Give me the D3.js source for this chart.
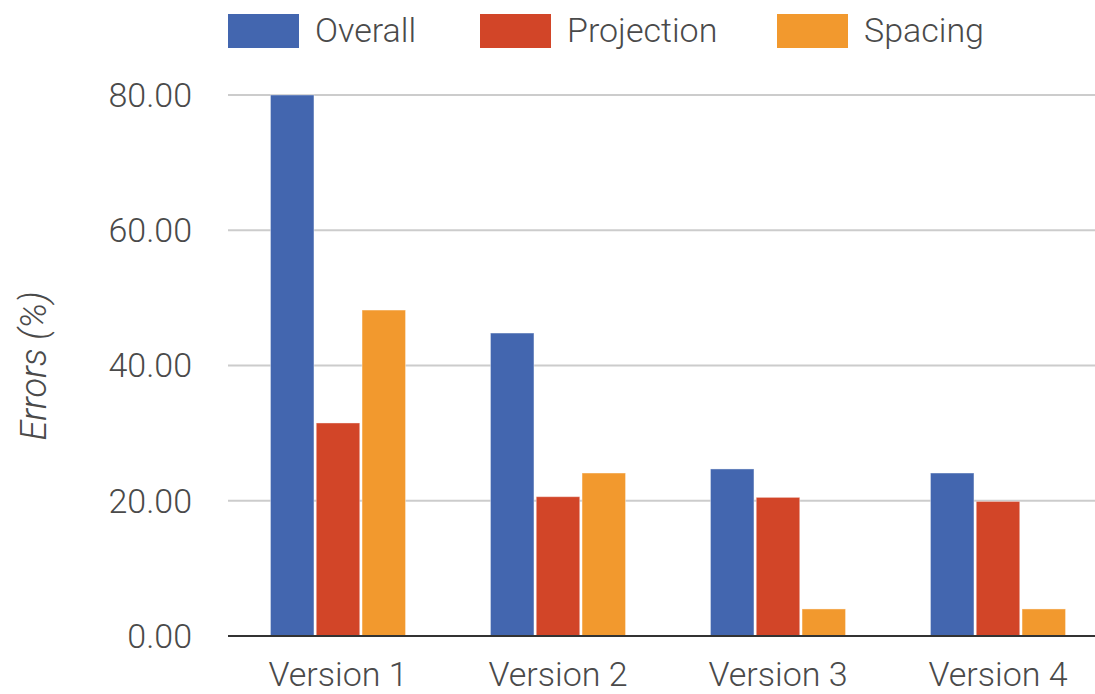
<!DOCTYPE html>
<html>
<head>
<meta charset="utf-8">
<script src="https://cdn.jsdelivr.net/npm/d3@7"></script>
<style>
  body { margin: 0; background: #fff; }
  svg { display: block; font-family: Roboto, "Noto Sans", sans-serif; font-weight: 300; }
</style>
</head>
<body>
<script>
// chart data
var categories = ["Version 1", "Version 2", "Version 3", "Version 4"];
var seriesNames = ["Overall", "Projection", "Spacing"];
var overall = [80.0, 44.8, 24.7, 24.1];
var projection = [31.5, 20.6, 20.5, 19.9];
var spacing = [48.2, 24.1, 4.0, 4.0];
var yTicks = [0, 20, 40, 60, 80];

var colors = ["#4366af", "#d24528", "#f2992e"];
var values = [overall, projection, spacing];

var width = 1095, height = 694;
var textColor = "#4a4a4a";

var svg = d3.select("body").append("svg")
  .attr("width", width)
  .attr("height", height);

// scales
var x = d3.scaleBand()
  .domain(categories)
  .range([228, 1108])
  .paddingInner(0.386)
  .paddingOuter(0.193);

var xSub = d3.scaleBand()
  .domain(seriesNames)
  .range([0, x.bandwidth()])
  .paddingInner(0.05);

var y = d3.scaleLinear()
  .domain([0, 80])
  .range([636, 95]);

// gridlines
svg.append("g")
  .selectAll("line")
  .data(yTicks.slice(1))
  .enter().append("line")
  .attr("x1", 228)
  .attr("x2", width)
  .attr("y1", function(d) { return y(d); })
  .attr("y2", function(d) { return y(d); })
  .attr("stroke", "#cccccc")
  .attr("stroke-width", 2);

// y tick labels
svg.append("g")
  .selectAll("text")
  .data(yTicks)
  .enter().append("text")
  .attr("x", 192)
  .attr("y", function(d) { return y(d); })
  .attr("dy", "0.35em")
  .attr("text-anchor", "end")
  .attr("fill", textColor)
  .attr("font-size", 34)
  .text(function(d) { return d3.format(".2f")(d); });

// y axis title
svg.append("text")
  .attr("transform", "translate(46,366) rotate(-90)")
  .attr("text-anchor", "middle")
  .attr("fill", textColor)
  .attr("font-size", 36)
  .attr("font-style", "italic")
  .text("Errors (%)");

// bars
var groups = svg.append("g")
  .selectAll("g")
  .data(categories)
  .enter().append("g")
  .attr("transform", function(d) { return "translate(" + x(d) + ",0)"; });

groups.selectAll("rect")
  .data(function(d, i) {
    return seriesNames.map(function(s, j) {
      return { series: s, value: values[j][i], color: colors[j] };
    });
  })
  .enter().append("rect")
  .attr("x", function(d) { return xSub(d.series); })
  .attr("width", xSub.bandwidth())
  .attr("y", function(d) { return y(d.value); })
  .attr("height", function(d) { return y(0) - y(d.value); })
  .attr("fill", function(d) { return d.color; })
  .attr("stroke", "#ffffff")
  .attr("stroke-opacity", 0.4)
  .attr("stroke-width", 1);

// baseline
svg.append("line")
  .attr("x1", 228)
  .attr("x2", width)
  .attr("y1", y(0))
  .attr("y2", y(0))
  .attr("stroke", "#333")
  .attr("stroke-width", 2);

// x labels
svg.append("g")
  .selectAll("text")
  .data(categories)
  .enter().append("text")
  .attr("x", function(d) { return x(d) + x.bandwidth() / 2; })
  .attr("y", 686)
  .attr("text-anchor", "middle")
  .attr("fill", textColor)
  .attr("font-size", 34)
  .text(function(d) { return d; });

// legend
var legendX = [228, 480, 777];
var legend = svg.append("g")
  .selectAll("g")
  .data(seriesNames)
  .enter().append("g")
  .attr("transform", function(d, i) { return "translate(" + legendX[i] + ",14)"; });

legend.append("rect")
  .attr("width", 71)
  .attr("height", 34)
  .attr("fill", function(d, i) { return colors[i]; });

legend.append("text")
  .attr("x", 87)
  .attr("y", 28)
  .attr("fill", textColor)
  .attr("font-size", 34)
  .text(function(d) { return d; });
</script>
</body>
</html>
